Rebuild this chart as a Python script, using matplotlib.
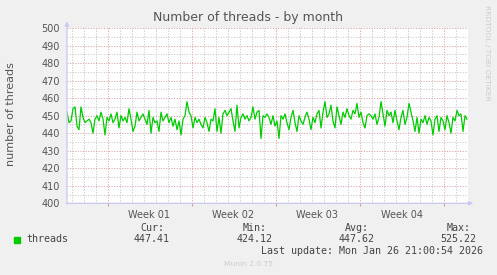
import numpy as np
import matplotlib
matplotlib.use('Agg')
import matplotlib.pyplot as plt
from matplotlib.patches import Rectangle

# number of threads, one sample every 4 hours over the month
threads = [
    452, 446, 447, 454, 455, 444, 442, 455, 449, 446,
    447, 448, 446, 440, 448, 450, 447, 452, 448, 439,
    449, 447, 451, 446, 448, 452, 443, 450, 447, 449,
    446, 454, 448, 441, 444, 452, 447, 449, 451, 448,
    445, 453, 440, 449, 446, 447, 441, 452, 447, 449,
    451, 446, 449, 444, 448, 442, 447, 439, 448, 450,
    458, 452, 450, 443, 449, 446, 448, 445, 443, 449,
    446, 441, 448, 447, 454, 441, 449, 440, 451, 453,
    450, 452, 454, 447, 441, 456, 443, 449, 451, 448,
    450, 447, 449, 455, 448, 452, 453, 437, 450, 449,
    451,
    449, 445, 450, 444, 447, 437, 450, 448, 451, 446,
    442, 449, 453, 446, 441, 450, 447, 445, 449, 452,
    448, 442, 449, 446, 451, 453, 443, 452, 458, 449,
    451, 456, 447, 443, 455, 450, 445, 452, 449, 454,
    450, 448, 453, 451, 457, 449, 452, 446, 443, 450,
    451,
    450, 448, 451, 445, 449, 458, 451, 444, 453, 450,
    452, 446, 453, 447, 442, 449, 453, 445, 449, 457,
    452, 447, 441, 449, 440, 448, 446, 450, 445, 449,
    447, 439, 448, 450, 441, 449, 447, 442, 450, 446,
    440, 449, 447, 453, 450, 451, 441, 450, 448,
]
sample_hours = 4

week_labels = ['Week 01', 'Week 02', 'Week 03', 'Week 04']
legend_name = 'threads'
stat_names = ['Cur:', 'Min:', 'Avg:', 'Max:']
stat_values = ['447.41', '424.12', '447.62', '525.22']
last_update = 'Last update: Mon Jan 26 21:00:54 2026'

W, H = 497, 275
fig = plt.figure(figsize=(W / 100, H / 100), dpi=100)
fig.patch.set_facecolor('#f0f0f0')


def fx(px):
    return px / W


def fy(py):
    return 1 - py / H


# plot area in pixels: x 67..468, y 28..203
ax = fig.add_axes([fx(67), fy(203.3), (468 - 67) / W, (203.3 - 28) / H])
ax.set_facecolor('white')

xmax = 401 / 12.0  # days shown
ax.set_xlim(0, xmax)
ax.set_ylim(400, 500)

# grid: days + weeks, 5 / 10 units
minor_c = '#c4c4c4'
major_c = '#e09a9a'
dots = (0, (1, 1.6))
day_lines = np.arange(0.375, xmax, 1.0)
week_lines = np.arange(3.375, xmax, 7.0)
for d in day_lines:
    if not np.any(np.isclose(d, week_lines)):
        ax.axvline(d, color=minor_c, lw=0.72, ls=dots, zorder=1)
for w in week_lines:
    ax.axvline(w, color=major_c, lw=0.72, ls=dots, zorder=1)
for v in np.arange(405, 500, 10):
    ax.axhline(v, color=minor_c, lw=0.72, ls=dots, zorder=1)
for v in np.arange(410, 501, 10):
    ax.axhline(v, color=major_c, lw=0.72, ls=dots, zorder=1)

days = np.arange(len(threads)) * sample_hours / 24.0
ax.plot(days, threads, color='#00cc00', lw=0.9, zorder=3)

for s in ax.spines.values():
    s.set_visible(False)

# axes with arrows
arrow = dict(arrowstyle='-|>', color='#c8c8f4', lw=0.9, mutation_scale=6,
             shrinkA=0, shrinkB=0)
ax.annotate('', xy=(0, 503.8), xytext=(0, 399.6), arrowprops=arrow,
            annotation_clip=False, zorder=4)
ax.annotate('', xy=(33.85, 400), xytext=(-0.05, 400), arrowprops=arrow,
            annotation_clip=False, zorder=4)

ax.set_yticks(np.arange(400, 501, 10))
ax.tick_params(axis='y', length=0, pad=5, labelsize=7, labelcolor='#555555')

ax.set_xticks(week_lines[:4] + 3.5)
ax.set_xticklabels(week_labels)
ax.set_xticks(week_lines, minor=True)
ax.tick_params(axis='x', which='major', length=0, pad=5, labelsize=7,
               labelcolor='#555555')
ax.tick_params(axis='x', which='minor', length=2.5, width=0.8,
               color=major_c)

fig.text(fx(248), fy(18), 'Number of threads - by month', ha='center',
         va='center', fontsize=9, color='#555555')
fig.text(fx(11), fy(114), 'number of threads', rotation=90, ha='center',
         va='center', fontsize=8, color='#555555')
fig.text(fx(487), fy(53), 'RRDTOOL / TOBI OETIKER', rotation=270,
         ha='center', va='center', fontsize=5.4, color='#cccccc')

# legend block
fig.patches.append(Rectangle((fx(14), fy(242.7)), 6 / W, 6 / H,
                             transform=fig.transFigure, color='#00cc00'))
mono = dict(family='DejaVu Sans Mono', fontsize=7.2, color='#444444',
            va='center')
fig.text(fx(26.5), fy(239.3), legend_name, ha='left', **mono)
for cx, name, val in zip([152, 254.5, 356.5, 458.5], stat_names, stat_values):
    fig.text(fx(cx), fy(228), name, ha='center', **mono)
    fig.text(fx(cx), fy(239.3), val, ha='center', **mono)
fig.text(fx(483), fy(251), last_update, ha='right', **mono)

fig.text(fx(248), fy(264), 'Munin 2.0.75', ha='center', va='center',
         fontsize=5.4, color='#cccccc')

fig.savefig('out.png', dpi=100, facecolor=fig.get_facecolor())
